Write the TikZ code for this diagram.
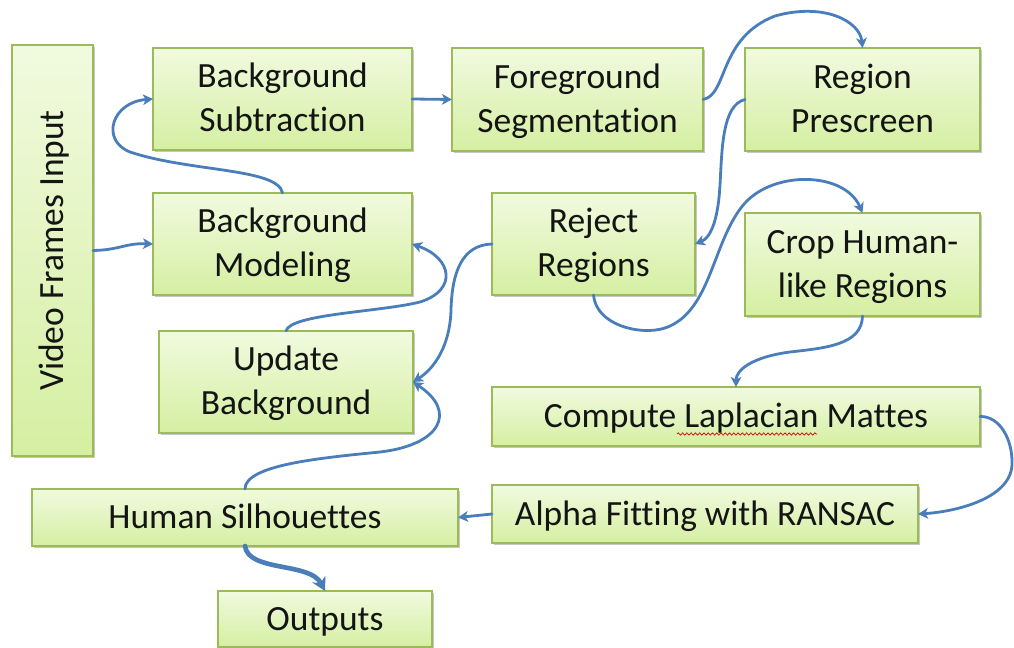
\documentclass[tikz,border=0pt]{standalone}
\usepackage{fontspec}
\setmainfont{Carlito}[Ligatures=NoCommon]
\usetikzlibrary{arrows.meta,shadows,decorations.pathmorphing}
\definecolor{boxtop}{HTML}{F1FADF}
\definecolor{boxbot}{HTML}{D5EFA2}
\definecolor{boxline}{HTML}{9BBB59}
\definecolor{arrblue}{HTML}{4A7EBB}
\definecolor{txt}{HTML}{141414}
\newcommand\lst{\rule[-5.5pt]{0pt}{27.5pt}}
\tikzset{
  box/.style 2 args={draw=boxline, line width=1.1pt, top color=boxtop, bottom color=boxbot,
    minimum width=#1*0.75pt, minimum height=#2*0.75pt, inner sep=0pt, outer sep=0pt,
    align=center, text=txt, font=\fontsize{26.6}{33}\selectfont,
    drop shadow={shadow xshift=1.6pt, shadow yshift=-1.8pt, opacity=0.22, fill=black}},
  arr/.style={draw=arrblue, line width=2.1pt, line cap=round,
    -{Stealth[length=7.5pt, width=8pt, inset=2pt]}},
  bigarr/.style={draw=arrblue, line width=3.5pt, line cap=round,
    -{Stealth[length=10pt, width=11pt, inset=3pt]}},
  spell/.style={draw=red!85!black, line width=0.5pt, decorate,
    decoration={snake, amplitude=0.9pt, segment length=3.2pt}}
}
\begin{document}
\begin{tikzpicture}[x=0.75pt,y=-0.75pt]
\useasboundingbox (0,0) rectangle (1014,648);
% nodes
\node[box={81}{411}] (vid) at (52.5,250.5) {\rotatebox{90}{\lst Video Frames Input}};
\node[box={259}{102}] (bs) at (282.5,99) {\lst Background\\\lst Subtraction};
\node[box={251}{103}] (fs) at (577.5,99.5) {\lst Foreground\\\lst Segmentation};
\node[box={235}{103}] (rp) at (862.5,99.5) {\lst Region\\\lst Prescreen};
\node[box={259}{102}] (bm) at (282.5,244) {\lst Background\\\lst Modeling};
\node[box={203}{102}] (rr) at (593.5,244) {\lst Reject\\\lst Regions};
\node[box={235}{103}] (crop) at (862.5,264.5) {\lst Crop Human-\\\lst like Regions};
\node[box={254}{102}] (ub) at (286,382) {\lst Update\\\lst Background};
\node[box={488}{59}] (lap) at (736,416.5) {\lst Compute Laplacian Mattes};
\node[box={426}{58}] (alpha) at (705,514) {\lst Alpha Fitting with RANSAC};
\node[box={426}{57}] (hs) at (245,517.5) {\lst Human Silhouettes};
\node[box={214}{56}] (out) at (325,619) {\lst Outputs};
% spell-check mark
\coordinate (sq1) at (677,434);
\coordinate (sq2) at (817,434);
\draw[spell] (sq1) -- (sq2);
% connectors
\draw[arr] (vid.east) .. controls (120,250) and (125,243) .. (bm.west);
\draw[arr] (bm.north) .. controls (278,168) and (190,172) .. (130,152)
  .. controls (100,140) and (112,102) .. (bs.west);
\draw[arr] (bs.east) -- (fs.west);
\draw[arr] (fs.east) .. controls (728,95) and (718,38) .. (775,16)
  .. controls (825,2) and (860,22) .. (rp.north);
\draw[arr] (rp.west) .. controls (722,105) and (722,150) .. (720,185)
  .. controls (718,222) and (710,238) .. (rr.east);
\draw[arr] (rr.south) .. controls (596,325) and (640,336) .. (665,328)
  .. controls (712,312) and (712,240) .. (745,203)
  .. controls (775,170) and (845,172) .. (crop.north);
\draw[arr] (rr.west) .. controls (462,245) and (452,272) .. (451,310)
  .. controls (450,345) and (435,368) .. (ub.east);
\draw[arr] (ub.north) .. controls (290,314) and (380,312) .. (420,302)
  .. controls (458,290) and (452,258) .. (bm.east);
\draw[arr] (crop.south) .. controls (862,345) and (825,348) .. (790,352)
  .. controls (752,357) and (736,370) .. (lap.north);
\draw[arr] (lap.east) .. controls (1000,416) and (1013,440) .. (1012,465)
  .. controls (1010,500) and (952,512) .. (alpha.east);
\draw[arr] (alpha.west) -- (hs.east);
\draw[arr] (hs.north) .. controls (245,465) and (320,458) .. (380,452)
  .. controls (440,445) and (458,412) .. (ub.east);
\draw[bigarr] (hs.south) .. controls (248,572) and (310,562) .. (out.north);
\end{tikzpicture}
\end{document}
